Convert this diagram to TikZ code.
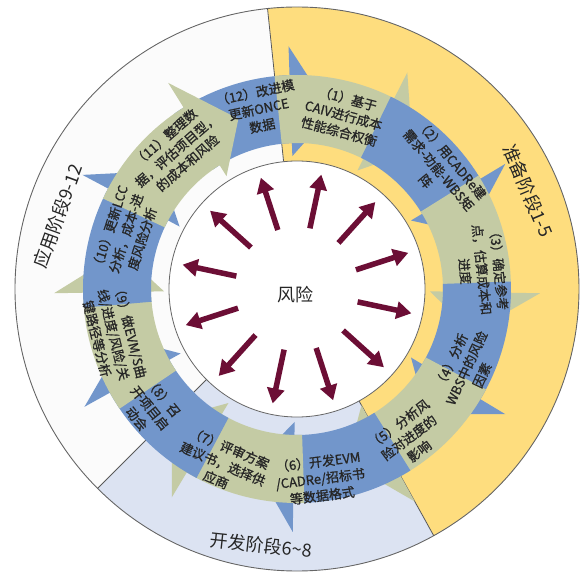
\documentclass[tikz,border=0pt]{standalone}
\usepackage{fontspec}
\setmainfont{Noto Sans CJK SC}
\newfontfamily\heavycjk{Noto Sans CJK SC}[FakeBold=1]
\usetikzlibrary{arrows.meta}
\definecolor{yel}{HTML}{FEDD7E}
\definecolor{offw}{HTML}{FBFBFB}
\definecolor{lblue}{HTML}{DCE3F2}
\definecolor{arrblue}{HTML}{7296CB}
\definecolor{arrgreen}{HTML}{C4CBA4}
\definecolor{maroon}{HTML}{6C0E35}
\newcommand{\blockarrow}[2]{%
  \pgfmathsetmacro\ta{#1+23}%
  \pgfmathsetmacro\tb{#1-23}%
  \pgfmathsetmacro\tc{#1-10}%
  \fill[#2] (\ta:214pt) arc[start angle=\ta, end angle=\tc, radius=214pt] -- (\tc:243pt) -- (\tb:180pt) -- (\tc:133pt) -- (\tc:146pt) arc[start angle=\tc, end angle=\ta, radius=146pt] -- cycle;%
}
\begin{document}
\begin{tikzpicture}[x=1pt,y=1pt,
  border/.style={draw=black!60, line width=0.9pt},
  sepline/.style={draw=black!65, line width=0.8pt},
  atext/.style={font=\heavycjk\fontsize{13}{17}\selectfont, align=center, inner sep=0pt, text=black!85},
  phase/.style={font=\fontsize{18}{20}\selectfont, inner sep=0pt, text=black!85},
  rarrow/.style={draw=maroon, line width=5.5pt, -{Triangle[width=17pt,length=15pt]}}]
\useasboundingbox (-297,-284) rectangle (285,289);
% sectors
\fill[yel] (0,0) -- (-61:282pt) arc[start angle=-61, end angle=96, radius=282pt] -- cycle;
\fill[offw] (0,0) -- (96:282pt) arc[start angle=96, end angle=225, radius=282pt] -- cycle;
\fill[lblue] (0,0) -- (225:282pt) arc[start angle=225, end angle=299, radius=282pt] -- cycle;
\draw[border] (0,0) circle[radius=282pt];
\foreach \a in {96,-61,225} \draw[sepline] (\a:128pt) -- (\a:282pt);
% block arrows
\blockarrow{102}{arrblue}
\blockarrow{73}{arrgreen}
\blockarrow{41}{arrblue}
\blockarrow{9}{arrgreen}
\blockarrow{-21}{arrblue}
\blockarrow{-51}{arrgreen}
\blockarrow{-81}{arrblue}
\blockarrow{-111}{arrgreen}
\blockarrow{-141}{arrblue}
\blockarrow{-169}{arrgreen}
\blockarrow{162}{arrblue}
\blockarrow{132}{arrgreen}
% inner circle
\node[circle, fill=white, draw=black!60, line width=0.8pt, minimum size=256pt, inner sep=0pt] (core) at (0,0) {};
\node[font=\fontsize{18}{20}\selectfont, text=black!85] (risk) at (-1,-6) {风险};
\foreach \a in {18,48,78,108,138,168,198,228,258,288,318,348}
  \draw[rarrow] (\a:62pt) -- (\a:117pt);
% texts
\node[atext, rotate=-15] (t1) at (75:180pt) {（1）基于\\CAIV进行成本\\性能综合权衡};
\node[atext, rotate=-50] (t2) at (40:185pt) {（2）用CADRe建\\需求-功能-WBS矩\\阵};
\node[atext, rotate=-84] (t3) at (6:186pt) {（3）确定参考\\点，估算成本和\\进度};
\node[atext, rotate=65] (t4) at (-25:187pt) {（4）分析\\WBS中的风险\\因素};
\node[atext, rotate=37] (t5) at (-53:186pt) {（5）分析风\\险对进度的\\影响};
\node[atext, rotate=7] (t6) at (-83:191pt) {（6）开发EVM\\/CADRe/招标书\\等数据格式};
\node[atext, rotate=-23] (t7) at (-113:190pt) {（7）评审方案\\建议书，选择供\\应商};
\node[atext, rotate=-51] (t8) at (-141:189pt) {（8）召\\开项目启\\动会};
\node[atext, rotate=-76] (t9) at (-166:189pt) {（9）做EVM/S曲\\线/进度/风险/关\\键路径等分析};
\node[atext, rotate=72] (t10) at (162:180pt) {（10）更新LCC\\分析，成本-进\\度风险分析};
\node[atext, rotate=41] (t11) at (131:184pt) {（11）整理数\\据，评估项目型，\\的成本和风险};
\node[atext, rotate=12] (t12) at (102:184pt) {（12）改进模\\更新ONCE\\数据};
% phase labels
\node[phase, rotate=-67] (p1) at (23:251pt) {准备阶段1-5};
\node[phase, rotate=70] (p2) at (163:250pt) {应用阶段9-12};
\node[phase, rotate=-6] (p3) at (-98:259pt) {开发阶段6\string~8};
\end{tikzpicture}
\end{document}
